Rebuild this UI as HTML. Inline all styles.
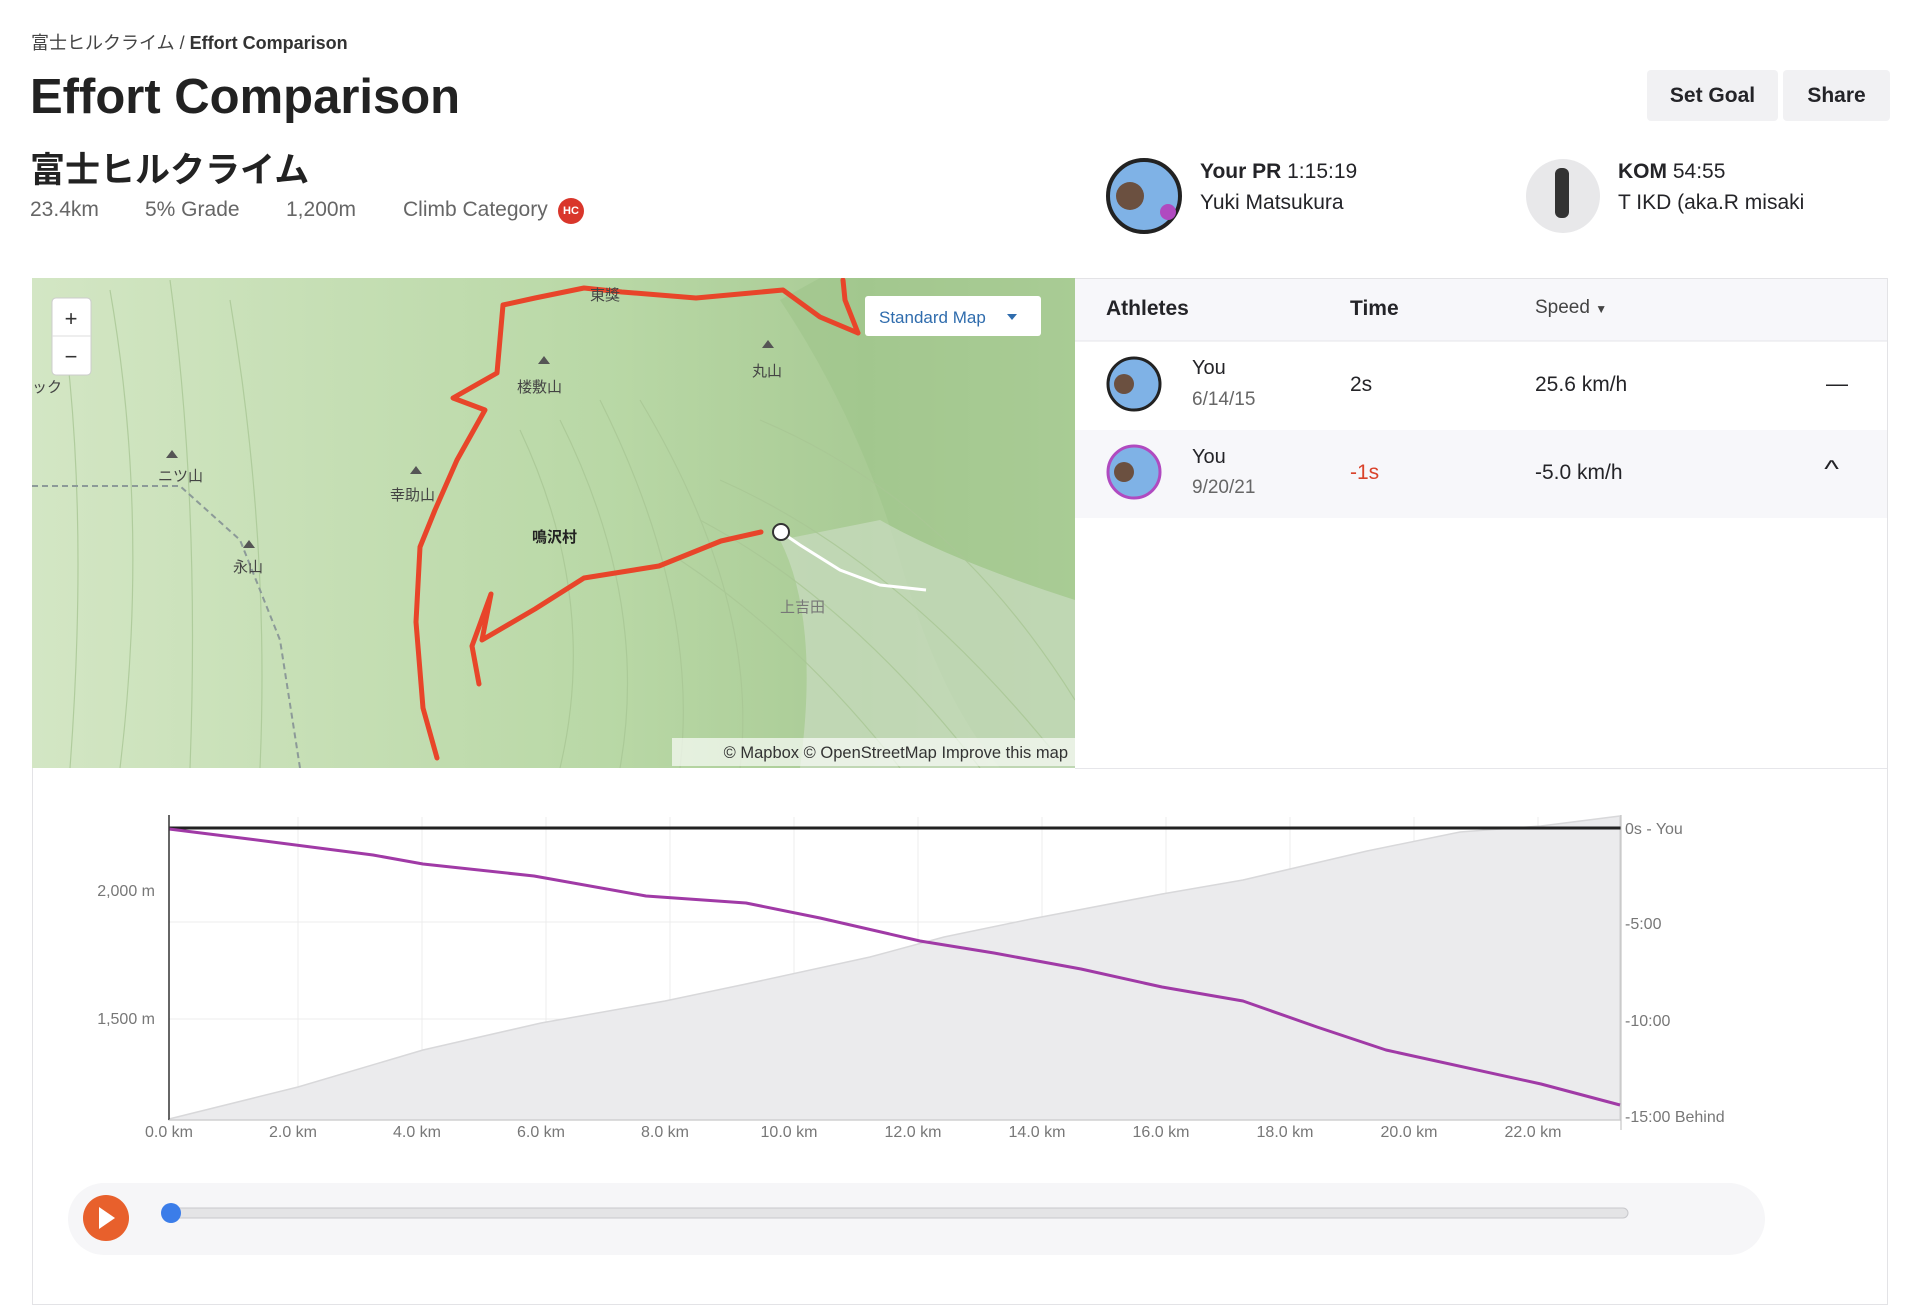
<!DOCTYPE html>
<html><head><meta charset="utf-8">
<style>
*{margin:0;padding:0;box-sizing:border-box}
body{width:1920px;height:1316px;background:#fff;position:relative;overflow:hidden;font-family:"Liberation Sans","Noto Sans CJK JP",sans-serif;color:#242428}
.a{position:absolute;white-space:nowrap}
</style></head><body>
<svg class="a" style="left:0;top:0" width="1920" height="1316" viewBox="0 0 1920 1316">
<defs>
<linearGradient id="mg" x1="0" x2="1" y1="0" y2="0">
<stop offset="0" stop-color="#d3e6c4"/><stop offset="0.55" stop-color="#b9d8a6"/><stop offset="0.8" stop-color="#a9cb95"/><stop offset="1" stop-color="#b8d6a4"/>
</linearGradient>
<clipPath id="mc"><rect x="32" y="278" width="1043" height="490"/></clipPath>
</defs>
<rect x="32.5" y="278.5" width="1855" height="1026" fill="none" stroke="#e3e3e6"/>
<rect x="1075" y="279" width="812" height="62" fill="#f7f7fa"/>
<line x1="1075" y1="341" x2="1887" y2="341" stroke="#e6e6ea"/>
<rect x="1075" y="430" width="812" height="88" fill="#f7f7fa"/>
<line x1="1075" y1="768.5" x2="1887" y2="768.5" stroke="#e6e6ea"/>
<g clip-path="url(#mc)">
<rect x="32" y="278" width="1043" height="490" fill="url(#mg)"/>
<path d="M780 300 Q860 420 900 560 T1000 768 L1075 768 L1075 278 L820 278Z" fill="#9fc48b" opacity="0.6"/>
<path d="M780 540 Q820 620 800 768 L1075 768 L1075 600 Q950 560 880 520Z" fill="#c9dcc0" opacity="0.7"/>
<g fill="none" stroke="#a9c795" stroke-width="1.2" opacity="0.8">
<path d="M60 300 Q90 500 70 768"/><path d="M110 290 Q150 520 120 768"/><path d="M170 280 Q200 500 190 768"/><path d="M230 300 Q270 540 260 768"/>
<path d="M520 430 Q600 600 560 768"/><path d="M560 420 Q650 600 620 768"/><path d="M600 400 Q700 600 680 768"/><path d="M640 400 Q760 600 740 768"/>
<path d="M680 560 Q800 640 900 768"/><path d="M700 520 Q850 600 980 768"/><path d="M720 480 Q900 560 1060 760"/><path d="M760 420 Q950 500 1075 700"/>
</g>
<path d="M32 486 L180 486 L240 540 L280 640 L300 768" fill="none" stroke="#8c9a98" stroke-width="2" stroke-dasharray="6,4"/>
<path d="M781 532 L800 545 L840 570 L880 585 L926 590" fill="none" stroke="#fff" stroke-width="3"/>
<g fill="none" stroke="#e8452a" stroke-width="5" stroke-linejoin="round" stroke-linecap="round">
<polyline points="437,758 423,708 416,622 420,547 435,510 457,460 485,410 453,398 497,373 503,305 535,298 584,288 622,292 696,298 783,290 820,317 858,333"/>
<polyline points="843,280 845,300 858,333"/>
<polyline points="479,684 472,646 491,594 482,640 535,609 584,578 659,566 721,541 761,532"/>
</g>
<circle cx="781" cy="532" r="8" fill="#fff" stroke="#333" stroke-width="2"/>
<g fill="#555"><polygon points="172,450 178,458 166,458"/><polygon points="249,540 255,548 243,548"/><polygon points="416,466 422,474 410,474"/><polygon points="544,356 550,364 538,364"/><polygon points="768,340 774,348 762,348"/></g>
<g font-size="15" fill="#444" font-family="Liberation Sans,Noto Sans CJK JP,sans-serif">
<text x="158" y="481">ニツ山</text><text x="233" y="572">永山</text><text x="390" y="500">幸助山</text><text x="517" y="392">楼敷山</text><text x="752" y="376">丸山</text>
<text x="532" y="542" font-weight="bold" fill="#222">鳴沢村</text><text x="780" y="612" fill="#777">上吉田</text><text x="590" y="300">東獎</text><text x="32" y="392">ック</text>
</g>
</g>
<rect x="52" y="298" width="39" height="77" rx="4" fill="#fff" stroke="#ccc"/>
<line x1="52" y1="336" x2="91" y2="336" stroke="#ddd"/>
<text x="71" y="326" font-size="22" text-anchor="middle" fill="#333" font-family="Liberation Sans">+</text>
<text x="71" y="364" font-size="22" text-anchor="middle" fill="#333" font-family="Liberation Sans">−</text>
<rect x="865" y="296" width="176" height="40" rx="3" fill="#fff"/>
<text x="879" y="323" font-size="17" fill="#2f6cad" font-family="Liberation Sans">Standard Map</text>
<polygon points="1007,314 1017,314 1012,320" fill="#2f6cad"/>
<rect x="672" y="738" width="403" height="28" fill="#fff" opacity="0.65"/>
<text x="1068" y="758" font-size="16.5" fill="#333" text-anchor="end" font-family="Liberation Sans">© Mapbox © OpenStreetMap Improve this map</text>

<g stroke="#ececec" stroke-width="1">
<line x1="298" y1="817" x2="298" y2="1120"/><line x1="422" y1="817" x2="422" y2="1120"/><line x1="546" y1="817" x2="546" y2="1120"/><line x1="670" y1="817" x2="670" y2="1120"/><line x1="794" y1="817" x2="794" y2="1120"/><line x1="918" y1="817" x2="918" y2="1120"/><line x1="1042" y1="817" x2="1042" y2="1120"/><line x1="1166" y1="817" x2="1166" y2="1120"/><line x1="1290" y1="817" x2="1290" y2="1120"/><line x1="1414" y1="817" x2="1414" y2="1120"/><line x1="1538" y1="817" x2="1538" y2="1120"/>
<line x1="169" y1="922" x2="1621" y2="922"/><line x1="169" y1="1019" x2="1621" y2="1019"/>
</g>
<path d="M169,1119 L298,1087 L423,1050 L541,1023 L665,1001 L746,984 L870,957 L944,937 L1031,919 L1162,894 L1243,880 L1367,851 L1460,832 L1541,826 L1620,816 L1620,1120 L169,1120Z" fill="#ebebed" stroke="#d8d8da" stroke-width="1.5"/>
<line x1="169" y1="828" x2="1621" y2="828" stroke="#222" stroke-width="3"/>
<polyline points="169,829 249,839 373,855 423,864 534,876 646,896 746,903 820,918 920,941 994,953 1081,969 1162,987 1243,1001 1317,1027 1386,1050 1541,1084 1620,1105" fill="none" stroke="#a03aa6" stroke-width="3" stroke-linejoin="round"/>
<line x1="169" y1="815" x2="169" y2="1120" stroke="#333" stroke-width="1.5"/>
<line x1="169" y1="1120" x2="1621" y2="1120" stroke="#ccc"/>
<line x1="1621" y1="815" x2="1621" y2="1130" stroke="#bbb"/>
<g font-size="16" fill="#777" font-family="Liberation Sans">
<text x="155" y="896" text-anchor="end">2,000 m</text><text x="155" y="1024" text-anchor="end">1,500 m</text>
<text x="1625" y="834">0s - You</text><text x="1625" y="929">-5:00</text><text x="1625" y="1026">-10:00</text><text x="1625" y="1122">-15:00 Behind</text>
<g text-anchor="middle"><text x="169" y="1137">0.0 km</text><text x="293" y="1137">2.0 km</text><text x="417" y="1137">4.0 km</text><text x="541" y="1137">6.0 km</text><text x="665" y="1137">8.0 km</text><text x="789" y="1137">10.0 km</text><text x="913" y="1137">12.0 km</text><text x="1037" y="1137">14.0 km</text><text x="1161" y="1137">16.0 km</text><text x="1285" y="1137">18.0 km</text><text x="1409" y="1137">20.0 km</text><text x="1533" y="1137">22.0 km</text></g>
</g>
<rect x="68" y="1183" width="1697" height="72" rx="36" fill="#f6f6f8"/>
<circle cx="106" cy="1218" r="23" fill="#e8602c"/>
<polygon points="99,1207 99,1229 115,1218" fill="#fff"/>
<rect x="170" y="1208" width="1458" height="10" rx="5" fill="#e4e4e6" stroke="#c8c8cc"/>
<circle cx="171" cy="1213" r="10" fill="#3b7de9"/>
<circle cx="1144" cy="196" r="36" fill="#7fb2e6" stroke="#222" stroke-width="4"/>
<circle cx="1130" cy="196" r="14" fill="#6b5040"/>
<circle cx="1168" cy="212" r="8" fill="#b04ac0"/>
<circle cx="1563" cy="196" r="37" fill="#e8e8ea"/>
<rect x="1555" y="168" width="14" height="50" rx="6" fill="#333"/>
<circle cx="1134" cy="384" r="26" fill="#7fb2e6" stroke="#222" stroke-width="3"/>
<circle cx="1124" cy="384" r="10" fill="#6b5040"/>
<circle cx="1134" cy="472" r="26" fill="#7fb2e6" stroke="#b04ac0" stroke-width="3"/>
<circle cx="1124" cy="472" r="10" fill="#6b5040"/>
</svg>

<div class="a" style="left:31px;top:29px;font-size:18px;color:#444">富士ヒルクライム / <b style="color:#333">Effort Comparison</b></div>
<div class="a" style="left:30px;top:69px;font-size:49px;font-weight:bold;color:#222">Effort Comparison</div>
<div class="a" style="left:1647px;top:70px;width:131px;height:51px;background:#f1f1f3;border-radius:4px;font-size:21px;font-weight:bold;text-align:center;line-height:51px">Set Goal</div>
<div class="a" style="left:1783px;top:70px;width:107px;height:51px;background:#f1f1f3;border-radius:4px;font-size:21px;font-weight:bold;text-align:center;line-height:51px">Share</div>
<div class="a" style="left:30px;top:142px;font-size:35px;font-weight:bold;color:#222">富士ヒルクライム</div>
<div class="a" style="left:30px;top:198px;font-size:21px;color:#666">23.4km</div>
<div class="a" style="left:145px;top:198px;font-size:21px;color:#666">5% Grade</div>
<div class="a" style="left:286px;top:198px;font-size:21px;color:#666">1,200m</div>
<div class="a" style="left:403px;top:198px;font-size:21px;color:#666">Climb Category</div>
<div class="a" style="left:558px;top:198px;width:26px;height:26px;border-radius:13px;background:#d9362b;color:#fff;font-size:11px;font-weight:bold;text-align:center;line-height:26px">HC</div>
<div class="a" style="left:1200px;top:160px;font-size:21px"><b>Your PR</b> 1:15:19</div>
<div class="a" style="left:1200px;top:191px;font-size:21px">Yuki Matsukura</div>
<div class="a" style="left:1618px;top:160px;font-size:21px"><b>KOM</b> 54:55</div>
<div class="a" style="left:1618px;top:191px;font-size:21px">T IKD (aka.R misaki</div>

<div class="a" style="left:1106px;top:297px;font-size:21px;font-weight:bold">Athletes</div>
<div class="a" style="left:1350px;top:297px;font-size:21px;font-weight:bold">Time</div>
<div class="a" style="left:1535px;top:297px;font-size:19px;color:#444">Speed <span style="font-size:12px">▼</span></div>
<div class="a" style="left:1192px;top:357px;font-size:20px">You</div>
<div class="a" style="left:1192px;top:389px;font-size:19px;color:#666">6/14/15</div>
<div class="a" style="left:1350px;top:373px;font-size:21px">2s</div>
<div class="a" style="left:1535px;top:373px;font-size:21px">25.6 km/h</div>
<div class="a" style="left:1826px;top:371px;font-size:22px">—</div>
<div class="a" style="left:1192px;top:446px;font-size:20px">You</div>
<div class="a" style="left:1192px;top:477px;font-size:19px;color:#666">9/20/21</div>
<div class="a" style="left:1350px;top:461px;font-size:21px;color:#d9432b">-1s</div>
<div class="a" style="left:1535px;top:461px;font-size:21px">-5.0 km/h</div>
<div class="a" style="left:1826px;top:456px;font-size:24px;transform:scaleX(1.3)">^</div>
</body></html>
